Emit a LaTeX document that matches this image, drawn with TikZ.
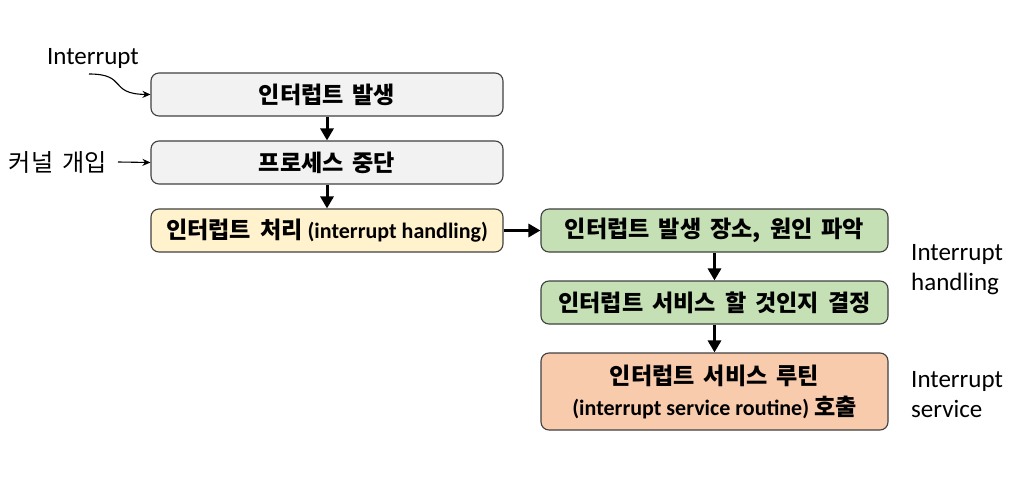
\documentclass[tikz,border=0pt]{standalone}
\usepackage{fontspec}
\setmainfont{Carlito}
\newfontfamily\krfont[Scale=1.05,WordSpace=1.7]{Noto Sans CJK KR}
\newcommand{\kr}[1]{{\krfont #1}}
\usetikzlibrary{arrows.meta}

\definecolor{boxgray}{HTML}{F2F2F2}
\definecolor{boxyellow}{HTML}{FFF2CC}
\definecolor{boxgreen}{HTML}{C5E0B4}
\definecolor{boxorange}{HTML}{F8CBAD}
\definecolor{boxline}{HTML}{404040}

\tikzset{
  procbox/.style={draw=boxline, line width=1.1pt, rounded corners=8pt,
    minimum width=352pt, minimum height=43pt, inner sep=0pt, align=center,
    font=\bfseries\fontsize{22}{31}\selectfont},
  bigarrow/.style={line width=3pt, -{Triangle[length=12pt,width=13pt]}},
  smallarrow/.style={line width=1.1pt, -{Stealth[length=8pt,width=7pt]}},
  sidelabel/.style={font=\fontsize{25}{30}\selectfont, align=left, inner sep=0pt}
}

\begin{document}
\begin{tikzpicture}[x=1pt,y=-1pt]
  \useasboundingbox (0,0) rectangle (1023,489);

  % Boxes
  \node[procbox, fill=boxgray] (occur) at (327,94.5) {\kr{인터럽트 발생}};
  \node[procbox, fill=boxgray] (stop) at (327,162.5) {\kr{프로세스 중단}};
  \node[procbox, fill=boxyellow] (handle) at (327,230.5)
    {\kr{인터럽트 처리} (interrupt handling)};

  \node[procbox, fill=boxgreen, minimum width=347pt] (cause) at (714.5,230.5)
    {\kr{인터럽트 발생 장소, 원인 파악}};
  \node[procbox, fill=boxgreen, minimum width=347pt] (decide) at (714.5,302.5)
    {\kr{인터럽트 서비스 할 것인지 결정}};
  \node[procbox, fill=boxorange, minimum width=347pt, minimum height=77pt] (isr) at (714.5,391.5)
    {\kr{인터럽트 서비스 루틴}\\(interrupt service routine) \kr{호출}};

  % Labels
  \node[sidelabel, anchor=center] (intr) at (93,58) {Interrupt};
  \node[sidelabel, anchor=center] (kernel) at (58,162) {\kr{\fontsize{23}{26}\selectfont 커널 개입}};
  \node[sidelabel, anchor=west] (hlabel) at (911,270) {Interrupt\\handling};
  \node[sidelabel, anchor=west] (slabel) at (911,395) {Interrupt\\service};

  \coordinate (intrend) at (89,74);
  \coordinate (kernelend) at (118,162);

  % Arrows
  \draw[bigarrow] (occur) -- (stop);
  \draw[bigarrow] (stop) -- (handle);
  \draw[bigarrow] (handle) -- (cause);
  \draw[bigarrow] (cause) -- (decide);
  \draw[bigarrow] (decide) -- (isr);
  \draw[smallarrow] (intrend) .. controls (128,74) and (108,94) .. (occur.west);
  \draw[smallarrow] (kernelend) -- (stop.west);
\end{tikzpicture}
\end{document}
